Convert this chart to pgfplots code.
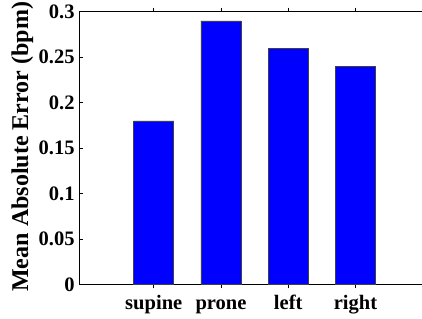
\documentclass[border=0pt]{standalone}
\usepackage{fontspec}
\setmainfont{Liberation Serif}
\usepackage{pgfplots}
\pgfplotsset{compat=1.18}
\begin{document}
\begin{tikzpicture}
\begin{axis}[
  name=ax,
  scale only axis,
  width=343pt, height=272.3pt,
  xmin=-0.11, xmax=5,
  ymin=0, ymax=0.3,
  axis line style={line width=0.8pt, black},
  tick align=inside,
  major tick length=4pt,
  tick style={black, line width=0.6pt},
  ytick pos=left,
  xtick={1,2,3,4},
  xticklabels={supine,prone,left,right},
  ytick={0,0.05,0.1,0.15,0.2,0.25,0.3},
  yticklabels={0,0.05,0.1,0.15,0.2,0.25,0.3},
  /pgf/number format/assume math mode=true,
  ticklabel style={font=\fontsize{20.5}{24}\selectfont\bfseries},
  xticklabel style={text height=14pt, text depth=4pt, yshift=-3pt},
  yticklabel style={xshift=-1pt},
  ylabel style={at={(axis description cs:-0.165,0.505)}, rotate=0, anchor=center},
  ylabel={\fontsize{24}{28}\selectfont\bfseries Mean Absolute Error (bpm)},
  ybar, bar width=40pt,
]
\addplot[fill={rgb,255:red,0;green,0;blue,255}, draw=black!75, line width=0.6pt] coordinates {(1,0.18) (2,0.29) (3,0.26) (4,0.24)};
\end{axis}
\pgfresetboundingbox
\path[use as bounding box] ([xshift=-79pt,yshift=-34pt]ax.south west) rectangle ([xshift=-0.7pt,yshift=11.7pt]ax.north east);
\end{tikzpicture}
\end{document}
